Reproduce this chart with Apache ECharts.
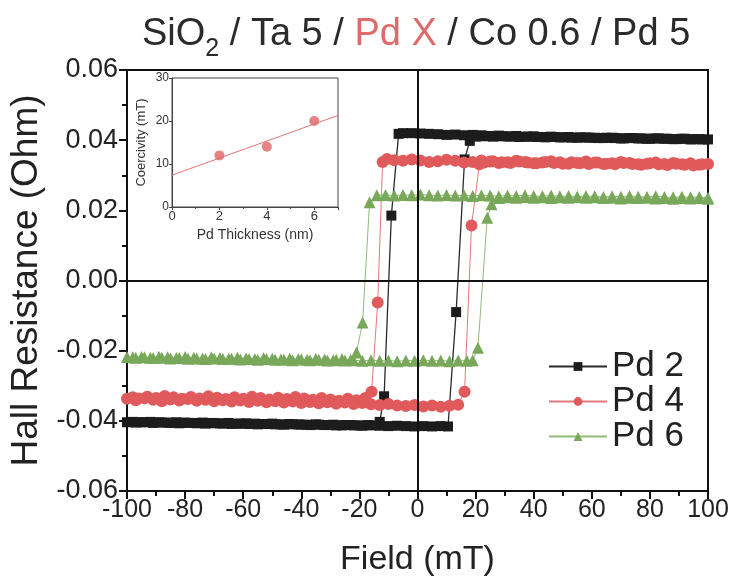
<!DOCTYPE html>
<html>
<head>
<meta charset="utf-8">
<script src="https://cdn.jsdelivr.net/npm/echarts@6/dist/echarts.min.js"></script>
<style>
  html, body { margin: 0; padding: 0; background: #fff; }
  #chart { width: 736px; height: 582px; }
</style>
</head>
<body>
<div id="chart"></div>
<script>
// Hall loops: [field (mT), Hall resistance (Ohm)], sweep down then sweep up
const pd2Down = [
  [100,0.0402],[97,0.0403],[94,0.0402],[91,0.0404],[88,0.0403],[85,0.0404],[82,0.0405],[79,0.0404],
  [76,0.0405],[73,0.0406],[70,0.0405],[67,0.0407],[64,0.0406],[61,0.0407],[58,0.0408],[55,0.0407],
  [52,0.0409],[49,0.0408],[46,0.0410],[43,0.0409],[40,0.0411],[37,0.0410],[34,0.0412],[31,0.0411],
  [28,0.0413],[25,0.0412],[22,0.0414],[19,0.0415],[16,0.0414],[13,0.0416],[10,0.0415],[7,0.0417],
  [4,0.0418],[1,0.0419],[-2,0.0420],[-5,0.0420],[-6.5,0.0418],[-9,0.0185],[-11.5,-0.0330],[-13,-0.0403],
  [-17,-0.0412],[-20,-0.0413],[-23,-0.0412],[-26,-0.0413],[-29,-0.0411],[-32,-0.0412],[-35,-0.0410],
  [-38,-0.0411],[-41,-0.0410],[-44,-0.0409],[-47,-0.0410],[-50,-0.0408],[-53,-0.0409],[-56,-0.0408],
  [-59,-0.0407],[-62,-0.0408],[-65,-0.0406],[-68,-0.0407],[-71,-0.0406],[-74,-0.0405],[-77,-0.0406],
  [-80,-0.0405],[-83,-0.0404],[-86,-0.0405],[-89,-0.0404],[-92,-0.0403],[-95,-0.0404],[-98,-0.0403]
];
const pd2Up = [
  [-100,-0.0404],[-97,-0.0405],[-94,-0.0404],[-91,-0.0406],[-88,-0.0405],[-85,-0.0406],[-82,-0.0407],
  [-79,-0.0406],[-76,-0.0407],[-73,-0.0408],[-70,-0.0407],[-67,-0.0408],[-64,-0.0409],[-61,-0.0408],
  [-58,-0.0409],[-55,-0.0410],[-52,-0.0409],[-49,-0.0410],[-46,-0.0411],[-43,-0.0410],[-40,-0.0411],
  [-37,-0.0412],[-34,-0.0411],[-31,-0.0412],[-28,-0.0413],[-25,-0.0412],[-22,-0.0413],[-19,-0.0414],
  [-16,-0.0413],[-13,-0.0414],[-10,-0.0415],[-7,-0.0414],[-4,-0.0415],[-1,-0.0416],[2,-0.0415],
  [5,-0.0416],[8,-0.0415],[10.5,-0.0416],[13.3,-0.0090],[16.2,0.0345],[18,0.0398],[20,0.0410],
  [23,0.0411],[26,0.0410],[29,0.0411],[32,0.0410],[35,0.0409],[38,0.0410],[41,0.0409],[44,0.0408],
  [47,0.0409],[50,0.0408],[53,0.0407],[56,0.0408],[59,0.0407],[62,0.0406],[65,0.0407],[68,0.0406],
  [71,0.0405],[74,0.0406],[77,0.0405],[80,0.0404],[83,0.0405],[86,0.0404],[89,0.0403],[92,0.0404],
  [95,0.0403],[98,0.0402]
];
const pd4Down = [
  [100,0.0332],[97,0.0330],[94,0.0334],[91,0.0331],[88,0.0335],[85,0.0332],[82,0.0336],[79,0.0333],
  [76,0.0331],[73,0.0335],[70,0.0338],[67,0.0334],[64,0.0332],[61,0.0336],[58,0.0339],[55,0.0335],
  [52,0.0333],[49,0.0337],[46,0.0340],[43,0.0336],[40,0.0334],[37,0.0338],[34,0.0341],[31,0.0337],
  [28,0.0335],[25,0.0339],[22,0.0342],[19,0.0338],[16,0.0336],[13,0.0341],[10,0.0344],[7,0.0340],
  [4,0.0338],[1,0.0342],[-2,0.0345],[-5,0.0341],[-8,0.0343],[-10.5,0.0346],[-12,0.0338],
  [-13.7,-0.0063],[-15.8,-0.0317],[-18,-0.0335],[-21,-0.0341],[-24,-0.0337],[-27,-0.0343],
  [-30,-0.0339],[-33,-0.0335],[-36,-0.0340],[-39,-0.0336],[-42,-0.0332],[-45,-0.0338],[-48,-0.0334],
  [-51,-0.0339],[-54,-0.0335],[-57,-0.0331],[-60,-0.0337],[-63,-0.0333],[-66,-0.0338],[-69,-0.0334],
  [-72,-0.0330],[-75,-0.0336],[-78,-0.0332],[-81,-0.0337],[-84,-0.0333],[-87,-0.0329],[-90,-0.0335],
  [-93,-0.0331],[-96,-0.0336],[-98,-0.0333]
];
const pd4Up = [
  [-100,-0.0337],[-97,-0.0341],[-94,-0.0336],[-91,-0.0340],[-88,-0.0344],[-85,-0.0339],[-82,-0.0342],
  [-79,-0.0338],[-76,-0.0343],[-73,-0.0340],[-70,-0.0344],[-67,-0.0341],[-64,-0.0345],[-61,-0.0342],
  [-58,-0.0346],[-55,-0.0343],[-52,-0.0347],[-49,-0.0344],[-46,-0.0348],[-43,-0.0345],[-40,-0.0349],
  [-37,-0.0346],[-34,-0.0350],[-31,-0.0347],[-28,-0.0351],[-25,-0.0348],[-22,-0.0352],[-19,-0.0349],
  [-16,-0.0353],[-13,-0.0355],[-10,-0.0352],[-7,-0.0356],[-4,-0.0358],[-1,-0.0355],[2,-0.0359],
  [5,-0.0356],[8,-0.0360],[11,-0.0357],[14,-0.0354],[16.2,-0.0317],[18.6,0.0157],[21.3,0.0331],
  [23,0.0336],[26,0.0340],[29,0.0337],[32,0.0335],[35,0.0339],[38,0.0336],[41,0.0334],[44,0.0338],
  [47,0.0335],[50,0.0333],[53,0.0337],[56,0.0334],[59,0.0332],[62,0.0336],[65,0.0333],[68,0.0331],
  [71,0.0335],[74,0.0332],[77,0.0330],[80,0.0334],[83,0.0331],[86,0.0329],[89,0.0333],[92,0.0330],
  [95,0.0328],[98,0.0331]
];
const pd6Down = [
  [100,0.0236],[97,0.0238],[94,0.0237],[91,0.0239],[88,0.0237],[85,0.0238],[82,0.0240],[79,0.0238],
  [76,0.0239],[73,0.0241],[70,0.0239],[67,0.0240],[64,0.0238],[61,0.0240],[58,0.0241],[55,0.0239],
  [52,0.0241],[49,0.0240],[46,0.0242],[43,0.0240],[40,0.0241],[37,0.0243],[34,0.0241],[31,0.0242],
  [28,0.0240],[25,0.0242],[22,0.0243],[19,0.0241],[16,0.0243],[13,0.0242],[10,0.0244],[7,0.0242],
  [4,0.0243],[1,0.0245],[-2,0.0243],[-5,0.0244],[-8,0.0242],[-11,0.0244],[-14,0.0243],
  [-16.5,0.0223],[-18.9,-0.0120],[-21,-0.0205],[-23,-0.0226],[-26,-0.0224],[-29,-0.0227],
  [-32,-0.0225],[-35,-0.0223],[-38,-0.0226],[-41,-0.0224],[-44,-0.0222],[-47,-0.0225],[-50,-0.0223],
  [-53,-0.0221],[-56,-0.0224],[-59,-0.0222],[-62,-0.0220],[-65,-0.0223],[-68,-0.0221],[-71,-0.0219],
  [-74,-0.0222],[-77,-0.0220],[-80,-0.0218],[-83,-0.0221],[-86,-0.0219],[-89,-0.0217],[-92,-0.0220],
  [-95,-0.0218],[-98,-0.0219]
];
const pd6Up = [
  [-100,-0.0218],[-97,-0.0220],[-94,-0.0219],[-91,-0.0221],[-88,-0.0220],[-85,-0.0222],[-82,-0.0221],
  [-79,-0.0223],[-76,-0.0222],[-73,-0.0224],[-70,-0.0222],[-67,-0.0224],[-64,-0.0223],[-61,-0.0225],
  [-58,-0.0224],[-55,-0.0226],[-52,-0.0224],[-49,-0.0226],[-46,-0.0225],[-43,-0.0227],[-40,-0.0225],
  [-37,-0.0227],[-34,-0.0226],[-31,-0.0228],[-28,-0.0226],[-25,-0.0228],[-22,-0.0227],[-19,-0.0229],
  [-16,-0.0227],[-13,-0.0229],[-10,-0.0228],[-7,-0.0230],[-4,-0.0228],[-1,-0.0229],[2,-0.0227],
  [5,-0.0229],[8,-0.0228],[11,-0.0230],[14,-0.0228],[17,-0.0229],[19,-0.0227],[20.8,-0.0192],
  [24,0.0179],[25.5,0.0217],[28,0.0235],[31,0.0237],[34,0.0236],[37,0.0238],[40,0.0236],[43,0.0237],
  [46,0.0235],[49,0.0237],[52,0.0236],[55,0.0238],[58,0.0236],[61,0.0237],[64,0.0235],[67,0.0236],
  [70,0.0234],[73,0.0236],[76,0.0235],[79,0.0236],[82,0.0234],[85,0.0235],[88,0.0233],[91,0.0235],
  [94,0.0234],[97,0.0235],[100,0.0233]
];

// Inset: coercivity vs Pd thickness, with its linear fit
const pdThickness = [2, 4, 6];
const coercivity = [12, 14, 20];
const fitThickness = [0, 7];
const fitCoercivity = [7.4, 21.3];

// Axis ticks
const fieldTicks = { min: -100, max: 100, step: 20 };
const hallTicks = { min: -0.06, max: 0.06, step: 0.02 };

const FONT = 'Liberation Sans, Arial, sans-serif';
const BLACK = '#1c1c1c';
const RED = '#e05a5c';
const GREEN = '#79a85a';

const chart = echarts.init(document.getElementById('chart'), null, { renderer: 'canvas' });

const loopSeries = (name, down, up, color, lineColor, symbol, size, lw) => ({
  name, type: 'line', xAxisIndex: 0, yAxisIndex: 0,
  data: down.concat(up),
  symbol, symbolSize: size,
  itemStyle: { color },
  lineStyle: { color: lineColor, width: lw },
  emphasis: { disabled: true },
  z: 3
});

const series = [
  loopSeries('Pd 2', pd2Down, pd2Up, BLACK, '#2a2a2a', 'rect', 10, 1.3),
  loopSeries('Pd 4', pd4Down, pd4Up, RED, '#e47a7c', 'circle', 12, 1),
  loopSeries('Pd 6', pd6Down, pd6Up, GREEN, '#93b97a', 'triangle', 12, 1),
  {
    type: 'line', xAxisIndex: 1, yAxisIndex: 1,
    data: fitThickness.map((t, i) => [t, fitCoercivity[i]]),
    symbol: 'none', lineStyle: { color: '#e27476', width: 1 }, z: 5
  },
  {
    type: 'scatter', xAxisIndex: 1, yAxisIndex: 1,
    data: pdThickness.map((t, i) => [t, coercivity[i]]),
    symbol: 'circle', symbolSize: 10, itemStyle: { color: '#e06567' }, z: 6
  }
];

// zero lines across the main plot
series[0].markLine = {
  silent: true, symbol: 'none', animation: false,
  label: { show: false },
  lineStyle: { color: '#111', width: 2, type: 'solid' },
  data: [{ xAxis: 0 }, { yAxis: 0 }]
};

chart.setOption({
  animation: false,
  backgroundColor: '#fff',
  title: {
    left: 137, top: 11,
    text: '{n|SiO}{s|2}{n| / Ta 5 / }{r|Pd X}{n| / Co 0.6 / Pd 5}',
    textStyle: {
      fontWeight: 'normal',
      rich: {
        n: { fontFamily: FONT, fontSize: 38, fontWeight: 'normal', color: '#2b2b2b', verticalAlign: 'top' },
        r: { fontFamily: FONT, fontSize: 38, fontWeight: 'normal', color: '#e06a6a', verticalAlign: 'top' },
        s: { fontFamily: FONT, fontSize: 25, fontWeight: 'normal', color: '#2b2b2b', verticalAlign: 'top', padding: [21, 0, 0, 0] }
      }
    }
  },
  legend: {
    orient: 'vertical', left: 543, top: 344,
    itemWidth: 58, itemHeight: 11, itemGap: 0,
    data: ['Pd 2', 'Pd 4', 'Pd 6'],
    textStyle: { fontFamily: FONT, fontSize: 35, color: '#222' },
    selectedMode: false
  },
  grid: [
    { left: 127, right: 28, top: 70, bottom: 90, show: true, borderColor: '#111', borderWidth: 2 },
    { left: 172, top: 78, width: 166, height: 129, show: true, borderColor: '#444', borderWidth: 1, backgroundColor: '#fff', z: 4 }
  ],
  xAxis: [
    {
      type: 'value', gridIndex: 0,
      min: fieldTicks.min, max: fieldTicks.max, interval: fieldTicks.step,
      name: 'Field (mT)', nameLocation: 'middle', nameGap: 52,
      nameTextStyle: { fontFamily: FONT, fontSize: 34, color: '#222' },
      axisLine: { onZero: false, lineStyle: { color: '#111', width: 2 } },
      axisTick: { length: 8, lineStyle: { color: '#111', width: 2 } },
      minorTick: { show: true, splitNumber: 2, length: 5, lineStyle: { color: '#111', width: 2 } },
      axisLabel: { fontFamily: FONT, fontSize: 25, color: '#222', margin: 7 },
      splitLine: { show: false }
    },
    {
      type: 'value', gridIndex: 1, min: 0, max: 7, interval: 2,
      name: 'Pd Thickness (nm)', nameLocation: 'middle', nameGap: 21,
      nameTextStyle: { fontFamily: FONT, fontSize: 14, color: '#333' },
      axisLine: { onZero: false, lineStyle: { color: '#444', width: 1 } },
      axisTick: { length: 3, lineStyle: { color: '#444' } },
      minorTick: { show: true, splitNumber: 2, length: 2, lineStyle: { color: '#444' } },
      axisLabel: { fontFamily: FONT, fontSize: 13, color: '#333', margin: 3, showMaxLabel: false },
      splitLine: { show: false }, z: 5
    }
  ],
  yAxis: [
    {
      type: 'value', gridIndex: 0,
      min: hallTicks.min, max: hallTicks.max, interval: hallTicks.step,
      name: 'Hall Resistance (Ohm)', nameLocation: 'middle', nameGap: 80,
      nameTextStyle: { fontFamily: FONT, fontSize: 37, color: '#222' },
      axisLine: { onZero: false, lineStyle: { color: '#111', width: 2 } },
      axisTick: { length: 8, lineStyle: { color: '#111', width: 2 } },
      minorTick: { show: true, splitNumber: 2, length: 5, lineStyle: { color: '#111', width: 2 } },
      axisLabel: { fontFamily: FONT, fontSize: 27, color: '#222', margin: 9, formatter: v => v.toFixed(2) },
      splitLine: { show: false }
    },
    {
      type: 'value', gridIndex: 1, min: 0, max: 30, interval: 10,
      name: 'Coercivity (mT)', nameLocation: 'middle', nameGap: 24,
      nameTextStyle: { fontFamily: FONT, fontSize: 13, color: '#333' },
      axisLine: { onZero: false, lineStyle: { color: '#444', width: 1 } },
      axisTick: { length: 3, lineStyle: { color: '#444' } },
      axisLabel: { fontFamily: FONT, fontSize: 12, color: '#333', margin: 3 },
      splitLine: { show: false }, z: 5
    }
  ],
  series
});
</script>
</body>
</html>
